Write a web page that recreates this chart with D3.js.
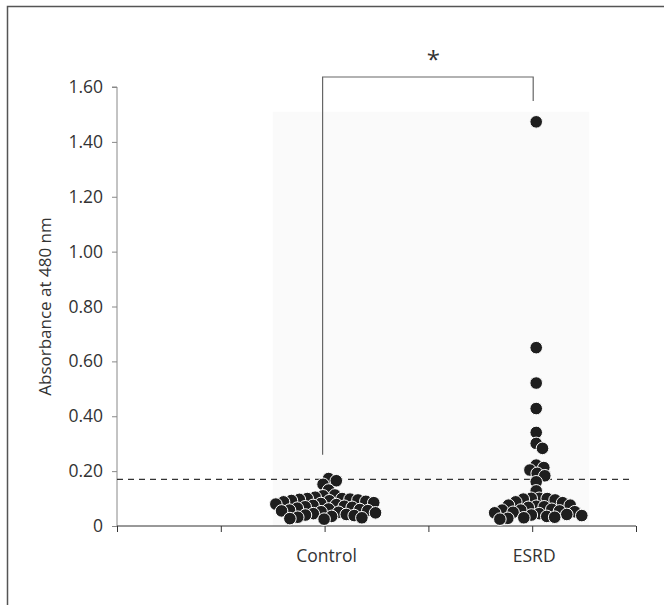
<!DOCTYPE html>
<html>
<head>
<meta charset="utf-8">
<script src="https://cdn.jsdelivr.net/npm/d3@7"></script>
<style>
  html, body { margin: 0; padding: 0; background: #fff; }
  svg { display: block; }
  text { font-family: "Open Sans", "Noto Sans", sans-serif; fill: #333; }
</style>
</head>
<body>
<svg id="chart" width="664" height="605"></svg>
<script>
// ---------- data ----------
const categories = ["Control", "ESRD"];
const categoryTicks = [2, 4];              // x-axis tick index of each group
const xTicks = [0, 1, 2, 3, 4, 5];
const yTicks = [0, 0.2, 0.4, 0.6, 0.8, 1.0, 1.2, 1.4, 1.6];
const yTickLabels = ["0", "0.20", "0.40", "0.60", "0.80", "1.00", "1.20", "1.40", "1.60"];
const controlValues = [0.173, 0.165, 0.152, 0.131, 0.113, 0.110, 0.105, 0.100, 0.100, 0.098,
  0.097, 0.095, 0.093, 0.092, 0.090, 0.088, 0.085, 0.082, 0.080, 0.078, 0.075, 0.072,
  0.070, 0.068, 0.065, 0.062, 0.060, 0.058, 0.056, 0.055, 0.052, 0.050, 0.048, 0.045,
  0.042, 0.040, 0.038, 0.035, 0.032, 0.030, 0.027, 0.025];
const esrdValues = [1.473, 0.650, 0.521, 0.428, 0.341, 0.301, 0.283, 0.222, 0.213, 0.204,
  0.192, 0.183, 0.161, 0.128, 0.101, 0.101, 0.100, 0.098, 0.095, 0.088, 0.085, 0.076,
  0.076, 0.072, 0.070, 0.068, 0.061, 0.058, 0.058, 0.055, 0.052, 0.050, 0.048, 0.045,
  0.042, 0.040, 0.038, 0.035, 0.032, 0.030, 0.028, 0.025];
const seriesValues = [controlValues, esrdValues];
const cutoff = 0.17;
const yLabel = "Absorbance at 480 nm";
const significance = "*";

// ---------- layout ----------
const svg = d3.select("#chart");
const x = d3.scaleLinear().domain([0, 5]).range([117, 636]);
const y = d3.scaleLinear().domain([0, 1.6]).range([526, 87]);

// frame
svg.append("path").attr("d", "M7.5,605 V6.5 H664")
  .attr("fill", "none").attr("stroke", "#555").attr("stroke-width", 1.5);

// light panel behind dots
svg.append("rect")
  .attr("x", x(1.5)).attr("y", y(1.51))
  .attr("width", x(4.55) - x(1.5)).attr("height", y(0) - y(1.51))
  .attr("fill", "#fafafa");

// y axis
const yAxis = d3.axisLeft(y).tickValues(yTicks).tickSize(5).tickPadding(9)
  .tickFormat((d, i) => yTickLabels[i]);
const gy = svg.append("g").attr("transform", `translate(${x(0)},0)`).call(yAxis);
gy.select(".domain").attr("stroke", "#888").attr("d", `M-5,${y(1.6)}H0V${y(0)}`);
gy.selectAll(".tick line").attr("stroke", "#888");
gy.selectAll(".tick text").style("font-size", "17.5px").attr("fill", "#333");

// x axis
const xAxis = d3.axisBottom(x).tickValues(xTicks).tickSize(6).tickFormat("");
const gx = svg.append("g").attr("transform", `translate(0,${y(0)})`).call(xAxis);
gx.select(".domain").attr("stroke", "#333").attr("d", `M${x(0)},0H${x(5)}`);
gx.selectAll(".tick line").attr("stroke", "#333");

// category labels
svg.append("g").selectAll("text").data(categories).join("text")
  .attr("x", (d, i) => x(categoryTicks[i]) + 2)
  .attr("y", y(0) + 36)
  .attr("text-anchor", "middle")
  .style("font-size", "17.5px")
  .text(d => d);

// y label
svg.append("text")
  .attr("transform", `translate(51,${(y(0) + y(1.6)) / 2}) rotate(-90)`)
  .attr("text-anchor", "middle")
  .style("font-size", "17px")
  .text(yLabel);

// cutoff line
svg.append("line")
  .attr("x1", x(0)).attr("x2", x(5) - 3)
  .attr("y1", y(cutoff)).attr("y2", y(cutoff))
  .attr("stroke", "#333").attr("stroke-width", 1.2)
  .attr("stroke-dasharray", "6,5");

// beeswarm placement (greedy)
const minDist = 8;
function swarm(values, cx) {
  const placed = [];
  const order = values.map((v, i) => ({ v, py: y(v) }))
    .sort((a, b) => b.v - a.v);
  for (const p of order) {
    const cands = [0];
    for (const q of placed) {
      const dy = Math.abs(q.py - p.py);
      if (dy < minDist) {
        const dx = Math.sqrt(minDist * minDist - dy * dy);
        cands.push(q.dx + dx, q.dx - dx);
      }
    }
    cands.sort((a, b) => Math.abs(a) - Math.abs(b));
    let best = cands[cands.length - 1];
    for (const c of cands) {
      const ok = placed.every(q => {
        const ddx = q.dx - c, ddy = q.py - p.py;
        return ddx * ddx + ddy * ddy >= minDist * minDist - 0.01;
      });
      if (ok) { best = c; break; }
    }
    placed.push({ v: p.v, py: p.py, dx: best });
  }
  return placed.map(q => ({ cx: cx + q.dx, cy: q.py, v: q.v }));
}

const dotsG = svg.append("g");
seriesValues.forEach((vals, i) => {
  const pts = swarm(vals, x(categoryTicks[i]) + 4);
  dotsG.append("g").selectAll("circle").data(pts).join("circle")
    .attr("cx", d => d.cx).attr("cy", d => d.cy).attr("r", 6.3)
    .attr("fill", "#1e1e1e").attr("stroke", "#fff").attr("stroke-width", 1);
});

// significance bracket
const by = 77;
svg.append("path")
  .attr("d", `M${x(2) - 2},${y(0.26)} V${by} H${x(4) + 1} V${by + 24}`)
  .attr("fill", "none").attr("stroke", "#666").attr("stroke-width", 1.2);
svg.append("text")
  .attr("x", (x(2) + x(4)) / 2 + 5).attr("y", by - 9)
  .attr("text-anchor", "middle").style("font-size", "24px")
  .text(significance);
</script>
</body>
</html>
